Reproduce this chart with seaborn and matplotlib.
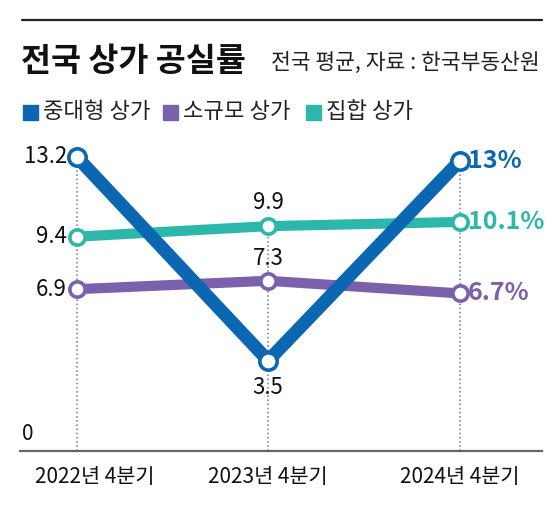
import matplotlib
matplotlib.use("Agg")
import matplotlib.pyplot as plt
import matplotlib.transforms as mtransforms
import seaborn as sns
import pandas as pd

quarters = ["2022년 4분기", "2023년 4분기", "2024년 4분기"]
series_names = ["중대형 상가", "소규모 상가", "집합 상가"]
mid_large = [13.2, 3.5, 13.0]
small = [6.9, 7.3, 6.7]
collective = [9.4, 9.9, 10.1]
end_labels = ["13%", "6.7%", "10.1%"]

colors = {"중대형 상가": "#0b67b2", "소규모 상가": "#7a60ad", "집합 상가": "#2cb7aa"}

sns.set_style("white")
plt.rcParams["font.family"] = ["Noto Sans CJK KR", "DejaVu Sans"]

df = pd.DataFrame({
    "x": list(range(len(quarters))) * 3,
    "value": mid_large + small + collective,
    "series": [s for s in series_names for _ in quarters],
})

fig = plt.figure(figsize=(5.59, 5.07), dpi=100)
ax = fig.add_axes([20 / 559, 56 / 507, 522 / 559, 311 / 507])
ax.set_xlim(-0.296, 2.43)
ax.set_ylim(-0.8, 14.0)

# dotted guides
tops = [max(a, b, c) for a, b, c in zip(mid_large, small, collective)]
for i, t in enumerate(tops):
    ax.vlines(i, -0.8, t, colors="#8a8a8a", linestyles=(0, (1, 1.5)), linewidth=1.2, zorder=1)

# lines: teal & purple first, blue on top
for name, lw, ms in [("집합 상가", 7.3, 11), ("소규모 상가", 7.3, 11), ("중대형 상가", 9.5, 12.5)]:
    sub = df[df["series"] == name]
    sns.lineplot(data=sub, x="x", y="value", ax=ax, color=colors[name], linewidth=lw,
                 marker="o", markersize=ms, markerfacecolor="white",
                 markeredgecolor=colors[name], markeredgewidth=2.6, zorder=3,
                 solid_capstyle="round")

# value labels
lab_kw = dict(textcoords="offset points", fontsize=16, color="#111111")
ax.annotate(f"{mid_large[0]}", (0, mid_large[0]), xytext=(-7, 0), ha="right", va="center", **lab_kw)
ax.annotate(f"{collective[0]}", (0, collective[0]), xytext=(-7, 0), ha="right", va="center", **lab_kw)
ax.annotate(f"{small[0]}", (0, small[0]), xytext=(-7, 0), ha="right", va="center", **lab_kw)
ax.annotate(f"{collective[1]}", (1, collective[1]), xytext=(0, 9), ha="center", va="bottom", **lab_kw)
ax.annotate(f"{small[1]}", (1, small[1]), xytext=(0, 8), ha="center", va="bottom", **lab_kw)
ax.annotate(f"{mid_large[1]}", (1, mid_large[1]), xytext=(0, -11), ha="center", va="top", **lab_kw)

for vals, lab, name in [(mid_large, end_labels[0], "중대형 상가"),
                        (small, end_labels[1], "소규모 상가"),
                        (collective, end_labels[2], "집합 상가")]:
    ax.annotate(lab, (2, vals[2]), xytext=(6, 0), textcoords="offset points",
                ha="left", va="center", fontsize=18, fontweight="bold", color=colors[name])

# zero label
trans = mtransforms.blended_transform_factory(ax.transAxes, ax.transData)
ax.text(0.004, 0, "0", transform=trans, ha="left", va="center", fontsize=15, color="#111111")

ax.set_xticks(range(len(quarters)))
ax.set_xticklabels(quarters, fontsize=15, color="#111111")
ax.set_yticks([])
ax.set_xlabel("")
ax.set_ylabel("")
ax.tick_params(axis="x", length=0, pad=11)
# first label nudged right so it stays inside the frame
first = ax.get_xticklabels()[0]
first.set_transform(first.get_transform() + mtransforms.ScaledTranslation(18 / 100, 0, fig.dpi_scale_trans))
for side in ["top", "right", "left"]:
    ax.spines[side].set_visible(False)
ax.spines["bottom"].set_color("#666666")
ax.spines["bottom"].set_linewidth(1.6)
if ax.get_legend():
    ax.get_legend().remove()

# header
fig.add_artist(plt.Line2D([22 / 559, 542 / 559], [1 - 20 / 507, 1 - 20 / 507], color="#222222", linewidth=1.6))
fig.text(21 / 559, 1 - 61 / 507, "전국 상가 공실률", fontsize=23.5, fontweight="bold", va="center", ha="left", color="#111111")
fig.text(540 / 559, 1 - 63 / 507, "전국 평균, 자료 : 한국부동산원", fontsize=15.5, va="center", ha="right", color="#222222")

leg_x = [23, 163, 306]
for lx, name in zip(leg_x, series_names):
    fig.patches.append(plt.Rectangle((lx / 559, 1 - 120 / 507), 15 / 559, 15 / 507,
                                     transform=fig.transFigure, color=colors[name]))
    fig.text((lx + 20) / 559, 1 - 112 / 507, name, fontsize=16, va="center", ha="left", color="#222222")

fig.savefig("out.png", dpi=100)
